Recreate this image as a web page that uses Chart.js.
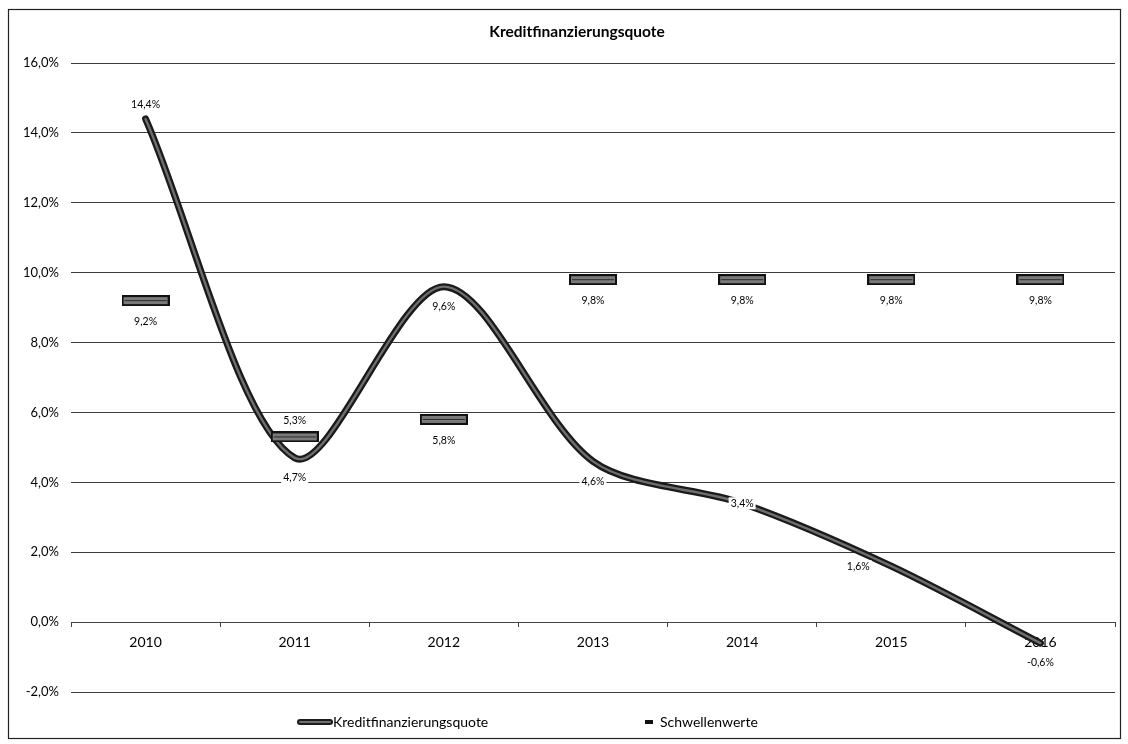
<!DOCTYPE html>
<html>
<head>
<meta charset="utf-8">
<script src="https://cdn.jsdelivr.net/npm/chart.js@4.4.1/dist/chart.umd.min.js"></script>
<style>
  html, body { margin: 0; padding: 0; background: #fff; }
  #wrap { position: relative; width: 1128px; height: 744px; }
</style>
</head>
<body>
<div id="wrap"><canvas id="c" width="1128" height="744"></canvas></div>
<script>
// ---- data ----
const years = ['2010', '2011', '2012', '2013', '2014', '2015', '2016'];
const kreditQuote = [14.4, 4.7, 9.6, 4.6, 3.4, 1.6, -0.6];
const schwellenwerte = [9.2, 5.3, 5.8, 9.8, 9.8, 9.8, 9.8];
const yTickValues = [-2, 0, 2, 4, 6, 8, 10, 12, 14, 16];
const chartTitle = 'Kreditfinanzierungsquote';
const seriesNames = ['Kreditfinanzierungsquote', 'Schwellenwerte'];

// where each value label sits relative to its point
const quoteLabelPlace = ['above', 'below', 'below', 'below', 'center', 'left', 'below'];
const thresholdLabelPlace = ['below', 'above', 'below', 'below', 'below', 'below', 'below'];

const FONT = 'Lato, "Open Sans", "DejaVu Sans", sans-serif';
const fmtPct = v => v.toFixed(1).replace('.', ',') + '%';

// threshold marker: a flat bar-shaped symbol
function makeMarker() {
  const w = 48, h = 11;
  const cv = document.createElement('canvas');
  cv.width = w; cv.height = h;
  const g = cv.getContext('2d');
  g.fillStyle = '#111';
  g.fillRect(0, 0, w, h);
  g.fillStyle = '#7a7a7a';
  g.fillRect(2, 2, w - 4, h - 4);
  g.fillStyle = '#2a2a2a';
  g.fillRect(3, 5, w - 6, 1);
  return cv;
}
const markerImg = makeMarker();

const bgFramePlugin = {
  id: 'bgFrame',
  beforeDraw(chart) {
    const ctx = chart.ctx;
    ctx.save();
    ctx.fillStyle = '#fff';
    ctx.fillRect(0, 0, chart.width, chart.height);
    ctx.strokeStyle = '#222';
    ctx.lineWidth = 1.2;
    ctx.strokeRect(8.5, 9.5, 1112, 729);
    ctx.restore();
  }
};

const titlePlugin = {
  id: 'titleText',
  afterDraw(chart) {
    const ctx = chart.ctx;
    ctx.save();
    ctx.font = 'bold 15.5px ' + FONT;
    ctx.fillStyle = '#000';
    ctx.textAlign = 'center';
    ctx.textBaseline = 'middle';
    ctx.fillText(chartTitle, 577, 32);
    ctx.restore();
  }
};

const valueLabelPlugin = {
  id: 'valueLabels',
  afterDatasetsDraw(chart) {
    const ctx = chart.ctx;
    ctx.save();
    ctx.font = '10.5px ' + FONT;
    ctx.textAlign = 'center';
    ctx.textBaseline = 'middle';
    chart.data.datasets.forEach((ds, di) => {
      if (!ds.valueLabels) return;
      const meta = chart.getDatasetMeta(di);
      meta.data.forEach((pt, i) => {
        const v = ds.data[i];
        const txt = fmtPct(v);
        const place = ds.valueLabels[i];
        let x = pt.x, y = pt.y;
        if (place === 'above') y -= ds.valueLabelAbove;
        else if (place === 'below') y += ds.valueLabelBelow;
        else if (place === 'left') x -= 33;
        const w = ctx.measureText(txt).width;
        ctx.fillStyle = '#fff';
        ctx.fillRect(x - w / 2 - 2, y - 6, w + 4, 12);
        ctx.fillStyle = '#000';
        ctx.fillText(txt, x, y);
      });
    });
    ctx.restore();
  }
};

const legendPlugin = {
  id: 'legendRow',
  afterDraw(chart) {
    const ctx = chart.ctx;
    const y = 722;
    ctx.save();
    // line series symbol
    ctx.lineCap = 'round';
    ctx.strokeStyle = '#1c1c1c';
    ctx.lineWidth = 6;
    ctx.beginPath(); ctx.moveTo(300, y); ctx.lineTo(330, y); ctx.stroke();
    ctx.strokeStyle = '#707070';
    ctx.lineWidth = 2;
    ctx.beginPath(); ctx.moveTo(300, y); ctx.lineTo(330, y); ctx.stroke();
    // threshold symbol
    ctx.fillStyle = '#111';
    ctx.fillRect(645, y - 2, 8, 4);
    ctx.font = '14px ' + FONT;
    ctx.fillStyle = '#000';
    ctx.textAlign = 'left';
    ctx.textBaseline = 'middle';
    ctx.fillText(seriesNames[0], 333, y);
    ctx.fillText(seriesNames[1], 660, y);
    ctx.restore();
  }
};

new Chart(document.getElementById('c'), {
  type: 'line',
  data: {
    labels: years,
    datasets: [
      {
        label: seriesNames[1],
        data: schwellenwerte,
        showLine: false,
        pointStyle: markerImg,
        pointRadius: 6,
        pointHoverRadius: 6,
        valueLabels: thresholdLabelPlace,
        valueLabelAbove: 16,
        valueLabelBelow: 21,
        order: 0
      },
      {
        label: seriesNames[0],
        data: kreditQuote,
        borderColor: '#1a1a1a',
        borderWidth: 7,
        tension: 0.3,
        pointRadius: 0,
        borderCapStyle: 'round',
        fill: false,
        valueLabels: quoteLabelPlace,
        valueLabelAbove: 14,
        valueLabelBelow: 20,
        order: 2
      },
      {
        label: seriesNames[0] + ' (Kern)',
        data: kreditQuote,
        borderColor: '#6e6e6e',
        borderWidth: 2.4,
        tension: 0.3,
        pointRadius: 0,
        borderCapStyle: 'round',
        fill: false,
        order: 1
      }
    ]
  },
  options: {
    responsive: false,
    animation: false,
    devicePixelRatio: 1,
    events: [],
    layout: { padding: { left: 0, top: 63, right: 13, bottom: 52 } },
    plugins: {
      legend: { display: false },
      title: { display: false },
      tooltip: { enabled: false }
    },
    scales: {
      x: {
        type: 'category',
        position: { y: 0 },
        offset: true,
        grid: {
          offset: true,
          drawOnChartArea: false,
          drawTicks: true,
          tickLength: 4,
          color: '#444',
          lineWidth: 1
        },
        border: { display: true, color: '#444', width: 1 },
        ticks: {
          color: '#000',
          padding: 8,
          maxRotation: 0,
          font: { family: FONT, size: 14 }
        }
      },
      y: {
        min: -2,
        max: 16,
        afterBuildTicks(scale) {
          scale.ticks = yTickValues.map(v => ({ value: v }));
        },
        afterFit(scale) { scale.width = 71; },
        grid: { color: '#3c3c3c', lineWidth: 1, drawTicks: false },
        border: { display: false },
        ticks: {
          color: '#000',
          padding: 12,
          font: { family: FONT, size: 13 },
          callback: v => fmtPct(v)
        }
      }
    }
  },
  plugins: [bgFramePlugin, titlePlugin, valueLabelPlugin, legendPlugin]
});
</script>
</body>
</html>
